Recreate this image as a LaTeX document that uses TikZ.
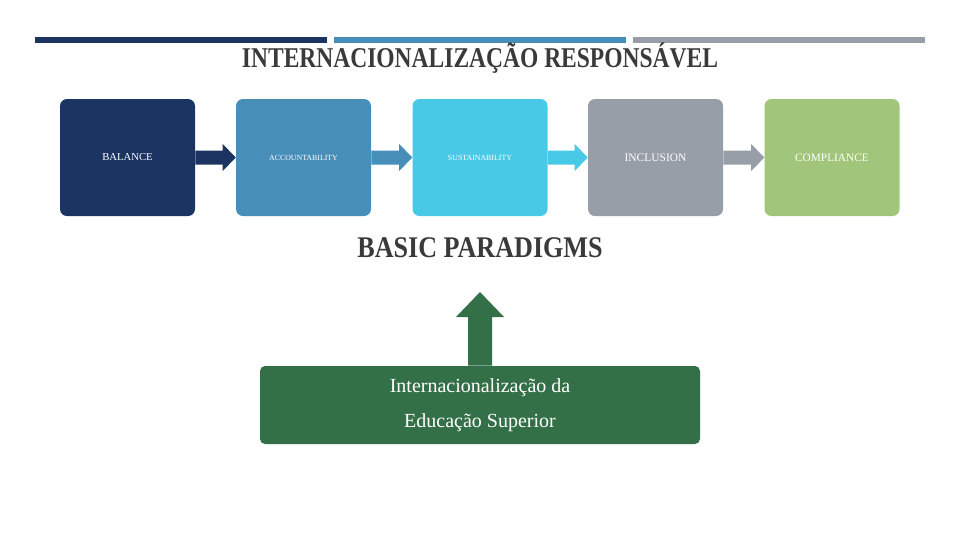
\documentclass[tikz,border=0pt]{standalone}
\usepackage{fontspec}
\setmainfont{Liberation Serif}
\usetikzlibrary{calc}
\definecolor{cnavy}{HTML}{1C3461}
\definecolor{cblue}{HTML}{478EB8}
\definecolor{ccyan}{HTML}{48C9E6}
\definecolor{cgray}{HTML}{979EA8}
\definecolor{clime}{HTML}{A1C57A}
\definecolor{cgreen}{HTML}{336F47}
\definecolor{ctext}{HTML}{3A3A3A}
\tikzset{
  stepbox/.style={rounded corners=5.25pt, minimum width=101.25pt, minimum height=87.75pt, inner sep=0pt, text=white, align=center},
  topbar/.style={minimum width=219pt, minimum height=4.5pt, inner sep=0pt},
}
\newcommand{\blockarrow}[3]{%
  \fill[#3] ($(#1.east)+(0,-7)$) -- ($(#2.west)+(-13,-7)$) -- ($(#2.west)+(-13,-13.5)$) -- (#2.west)
   -- ($(#2.west)+(-13,13.5)$) -- ($(#2.west)+(-13,7)$) -- ($(#1.east)+(0,7)$) -- cycle;}
\begin{document}
\begin{tikzpicture}[x=0.75pt,y=-0.75pt]
\useasboundingbox (0,0) rectangle (960,540);
% top bars
\node[topbar, fill=cnavy] (bar1) at (181,39.5) {};
\node[topbar, fill=cblue] (bar2) at (480,39.5) {};
\node[topbar, fill=cgray] (bar3) at (779,39.5) {};
% title
\node[text=ctext, inner sep=0pt] (title) at (480,58) {\fontsize{21.5}{24}\selectfont\bfseries\scalebox{0.82}[1]{INTERNACIONALIZAÇÃO RESPONSÁVEL}};
% boxes
\node[stepbox, fill=cnavy, font=\fontsize{8}{9}\selectfont] (b1) at (127.5,157.5) {BALANCE};
\node[stepbox, fill=cblue, font=\fontsize{5.9}{7}\selectfont] (b2) at (303.5,157.5) {ACCOUNTABILITY};
\node[stepbox, fill=ccyan, font=\fontsize{5.9}{7}\selectfont] (b3) at (480,157.5) {SUSTAINABILITY};
\node[stepbox, fill=cgray, font=\fontsize{8.6}{10}\selectfont] (b4) at (655.5,157.5) {INCLUSION};
\node[stepbox, fill=clime, font=\fontsize{8.5}{10}\selectfont] (b5) at (832,157.5) {COMPLIANCE};
\blockarrow{b1}{b2}{cnavy}
\blockarrow{b2}{b3}{cblue}
\blockarrow{b3}{b4}{ccyan}
\blockarrow{b4}{b5}{cgray}
% basic paradigms
\node[text=ctext, inner sep=0pt] (bp) at (480,248) {\fontsize{22.5}{26}\selectfont\bfseries\scalebox{0.87}[1]{BASIC PARADIGMS}};
% green box
\node[fill=cgreen, rounded corners=3.75pt, minimum width=330pt, minimum height=58.5pt, inner sep=0pt, text=white, align=center, font=\fontsize{15}{26}\selectfont] (g) at (480,405)
  {Internacionalização da\\ Educação Superior};
\coordinate (tip) at (480,292);
\fill[cgreen] ($(g.north)+(-12,0)$) -- ($(tip)+(-12,25)$) -- ($(tip)+(-24,25)$) -- (tip)
  -- ($(tip)+(24,25)$) -- ($(tip)+(12,25)$) -- ($(g.north)+(12,0)$) -- cycle;
\end{tikzpicture}
\end{document}
